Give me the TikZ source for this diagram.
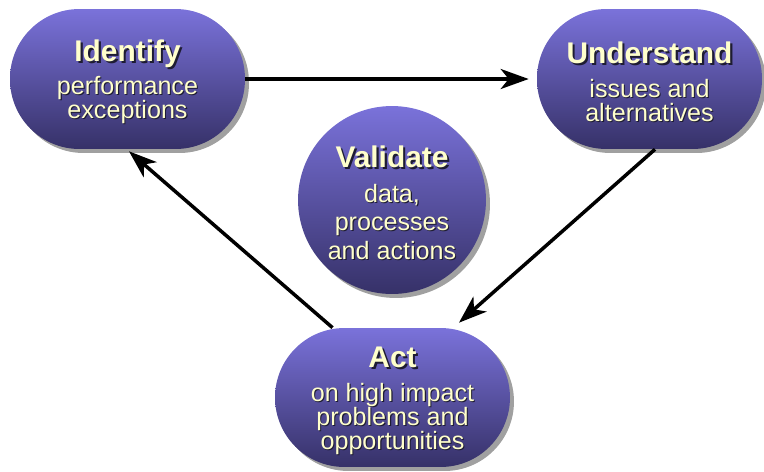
\documentclass[tikz,border=0pt]{standalone}
\usepackage{fontspec}
\setmainfont{Liberation Sans}
\usetikzlibrary{shapes.geometric, shadows, arrows.meta, positioning}

\definecolor{ovaltop}{RGB}{122,114,218}
\definecolor{ovalbottom}{RGB}{54,49,104}
\definecolor{ovalshade}{RGB}{160,160,160}
\definecolor{labeltext}{RGB}{255,255,204}
\definecolor{labelshade}{RGB}{30,28,50}

\newcommand{\shadedtext}[2]{\rlap{\kern#1\raisebox{-#1}{\color{labelshade}#2}}#2}
\newcommand{\titletext}[1]{{\fontsize{17}{17}\selectfont\bfseries\rule{0pt}{16pt}\shadedtext{1.2pt}{#1}}}
\newcommand{\subtext}[1]{\shadedtext{0.6pt}{#1}}

\begin{document}
\begin{tikzpicture}[
x=0.02cm, y=-0.02cm,
oval/.style={rectangle, rounded corners=1.39cm, minimum width=4.7cm, minimum height=2.8cm, inner sep=0pt,
  top color=ovaltop, bottom color=ovalbottom,
  drop shadow={shadow xshift=0.08cm, shadow yshift=-0.08cm, fill=ovalshade, opacity=1},
  text=labeltext, align=center, font=\fontsize{14.3}{13.7}\selectfont,
  execute at begin node={\lineskiplimit=-20pt}},
roundnode/.style={oval, circle, sharp corners, minimum size=3.76cm},
arrowline/.style={-{Stealth[length=0.56cm, width=0.4cm, inset=0.16cm]}, line width=0.07cm}
]
\useasboundingbox (0,0) rectangle (764,471);

\node[oval] (oval_identify) at (127.5,79) {\titletext{Identify}\\[5.5pt]\subtext{performance}\\\subtext{exceptions}};
\node[oval, minimum width=4.5cm] (oval_understand) at (649.5,79) {\titletext{Understand}\\[5.5pt]\subtext{issues and}\\\subtext{alternatives}};
\node[oval, minimum height=2.78cm] (oval_act) at (392.5,397.5) {\titletext{Act}\\[5.5pt]\subtext{on high impact}\\\subtext{problems and}\\\subtext{opportunities}};
\node[roundnode, font=\fontsize{14.3}{16.2}\selectfont] (circle_validate) at (392,200) {\titletext{Validate}\\[3.5pt]\subtext{data,}\\\subtext{processes}\\\subtext{and actions}};

\path[arrowline] (oval_identify.east) edge [shorten >=0.16cm] (oval_understand.west);
\path[arrowline] ([xshift=0.11cm]oval_understand.south) edge ([xshift=1.33cm, yshift=0.1cm]oval_act.north);
\path[arrowline] ([xshift=-1.2cm]oval_act.north) edge ([xshift=0.03cm, yshift=-0.04cm]oval_identify.south);

\end{tikzpicture}
\end{document}
